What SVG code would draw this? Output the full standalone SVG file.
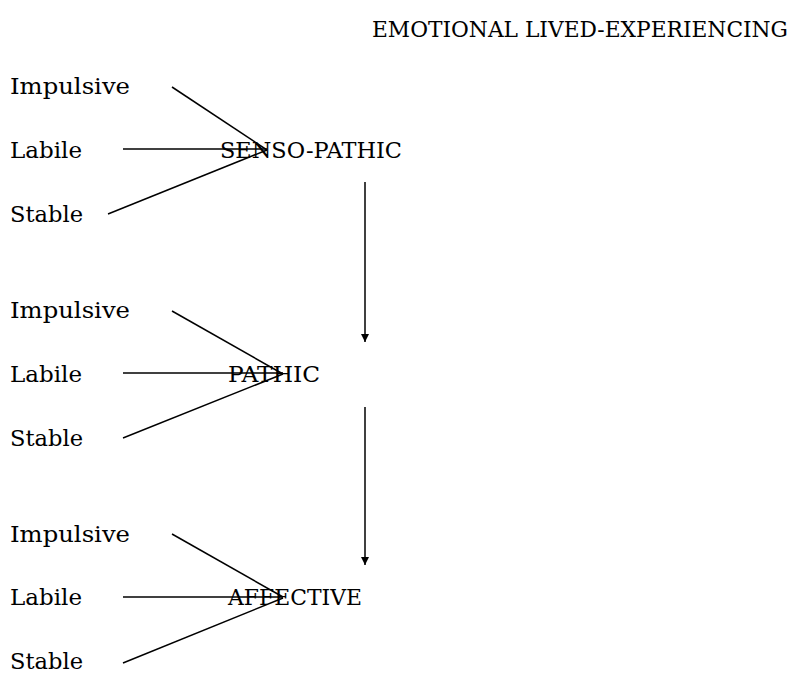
<svg xmlns="http://www.w3.org/2000/svg" width="799" height="673" viewBox="0 0 799 673">
<style>
text{font-family:"DejaVu Serif","Liberation Serif",serif;font-size:22px;fill:#000}
line{stroke:#000;stroke-width:1.5}
</style>
<defs>
<marker id="ah" markerWidth="8" markerHeight="8" refX="8" refY="4" orient="auto" markerUnits="userSpaceOnUse" viewBox="0 0 8 8">
<path d="M0,0 L8,4 L0,8 Z" fill="#000"/>
</marker>
</defs>
<g id="title"><text x="372" y="37" textLength="416" lengthAdjust="spacingAndGlyphs">EMOTIONAL LIVED-EXPERIENCING</text></g>
<g id="n1-impulsive"><text x="10" y="94" textLength="120" lengthAdjust="spacingAndGlyphs">Impulsive</text></g>
<g id="n1-labile"><text x="10" y="158" textLength="72" lengthAdjust="spacingAndGlyphs">Labile</text></g>
<g id="n1-stable"><text x="10" y="222" textLength="73" lengthAdjust="spacingAndGlyphs">Stable</text></g>
<g id="senso-pathic"><text x="220" y="158" textLength="182" lengthAdjust="spacingAndGlyphs">SENSO-PATHIC</text></g>
<g id="n2-impulsive"><text x="10" y="318" textLength="120" lengthAdjust="spacingAndGlyphs">Impulsive</text></g>
<g id="n2-labile"><text x="10" y="382" textLength="72" lengthAdjust="spacingAndGlyphs">Labile</text></g>
<g id="n2-stable"><text x="10" y="446" textLength="73" lengthAdjust="spacingAndGlyphs">Stable</text></g>
<g id="pathic"><text x="228" y="382" textLength="92" lengthAdjust="spacingAndGlyphs">PATHIC</text></g>
<g id="n3-impulsive"><text x="10" y="542" textLength="120" lengthAdjust="spacingAndGlyphs">Impulsive</text></g>
<g id="n3-labile"><text x="10" y="605" textLength="72" lengthAdjust="spacingAndGlyphs">Labile</text></g>
<g id="n3-stable"><text x="10" y="669" textLength="73" lengthAdjust="spacingAndGlyphs">Stable</text></g>
<g id="affective"><text x="228" y="605" textLength="134" lengthAdjust="spacingAndGlyphs">AFFECTIVE</text></g>
<g id="connectors">
<line x1="172" y1="87" x2="267" y2="150"/>
<line x1="123" y1="149" x2="267" y2="149"/>
<line x1="108" y1="214" x2="267" y2="150"/>
<line x1="365" y1="182" x2="365" y2="342" marker-end="url(#ah)"/>
<line x1="172" y1="311" x2="283" y2="374"/>
<line x1="123" y1="373" x2="283" y2="373"/>
<line x1="123" y1="438" x2="283" y2="374"/>
<line x1="365" y1="407" x2="365" y2="565" marker-end="url(#ah)"/>
<line x1="172" y1="534" x2="283" y2="597"/>
<line x1="123" y1="597" x2="283" y2="597"/>
<line x1="123" y1="663" x2="283" y2="598"/>
</g>
</svg>
